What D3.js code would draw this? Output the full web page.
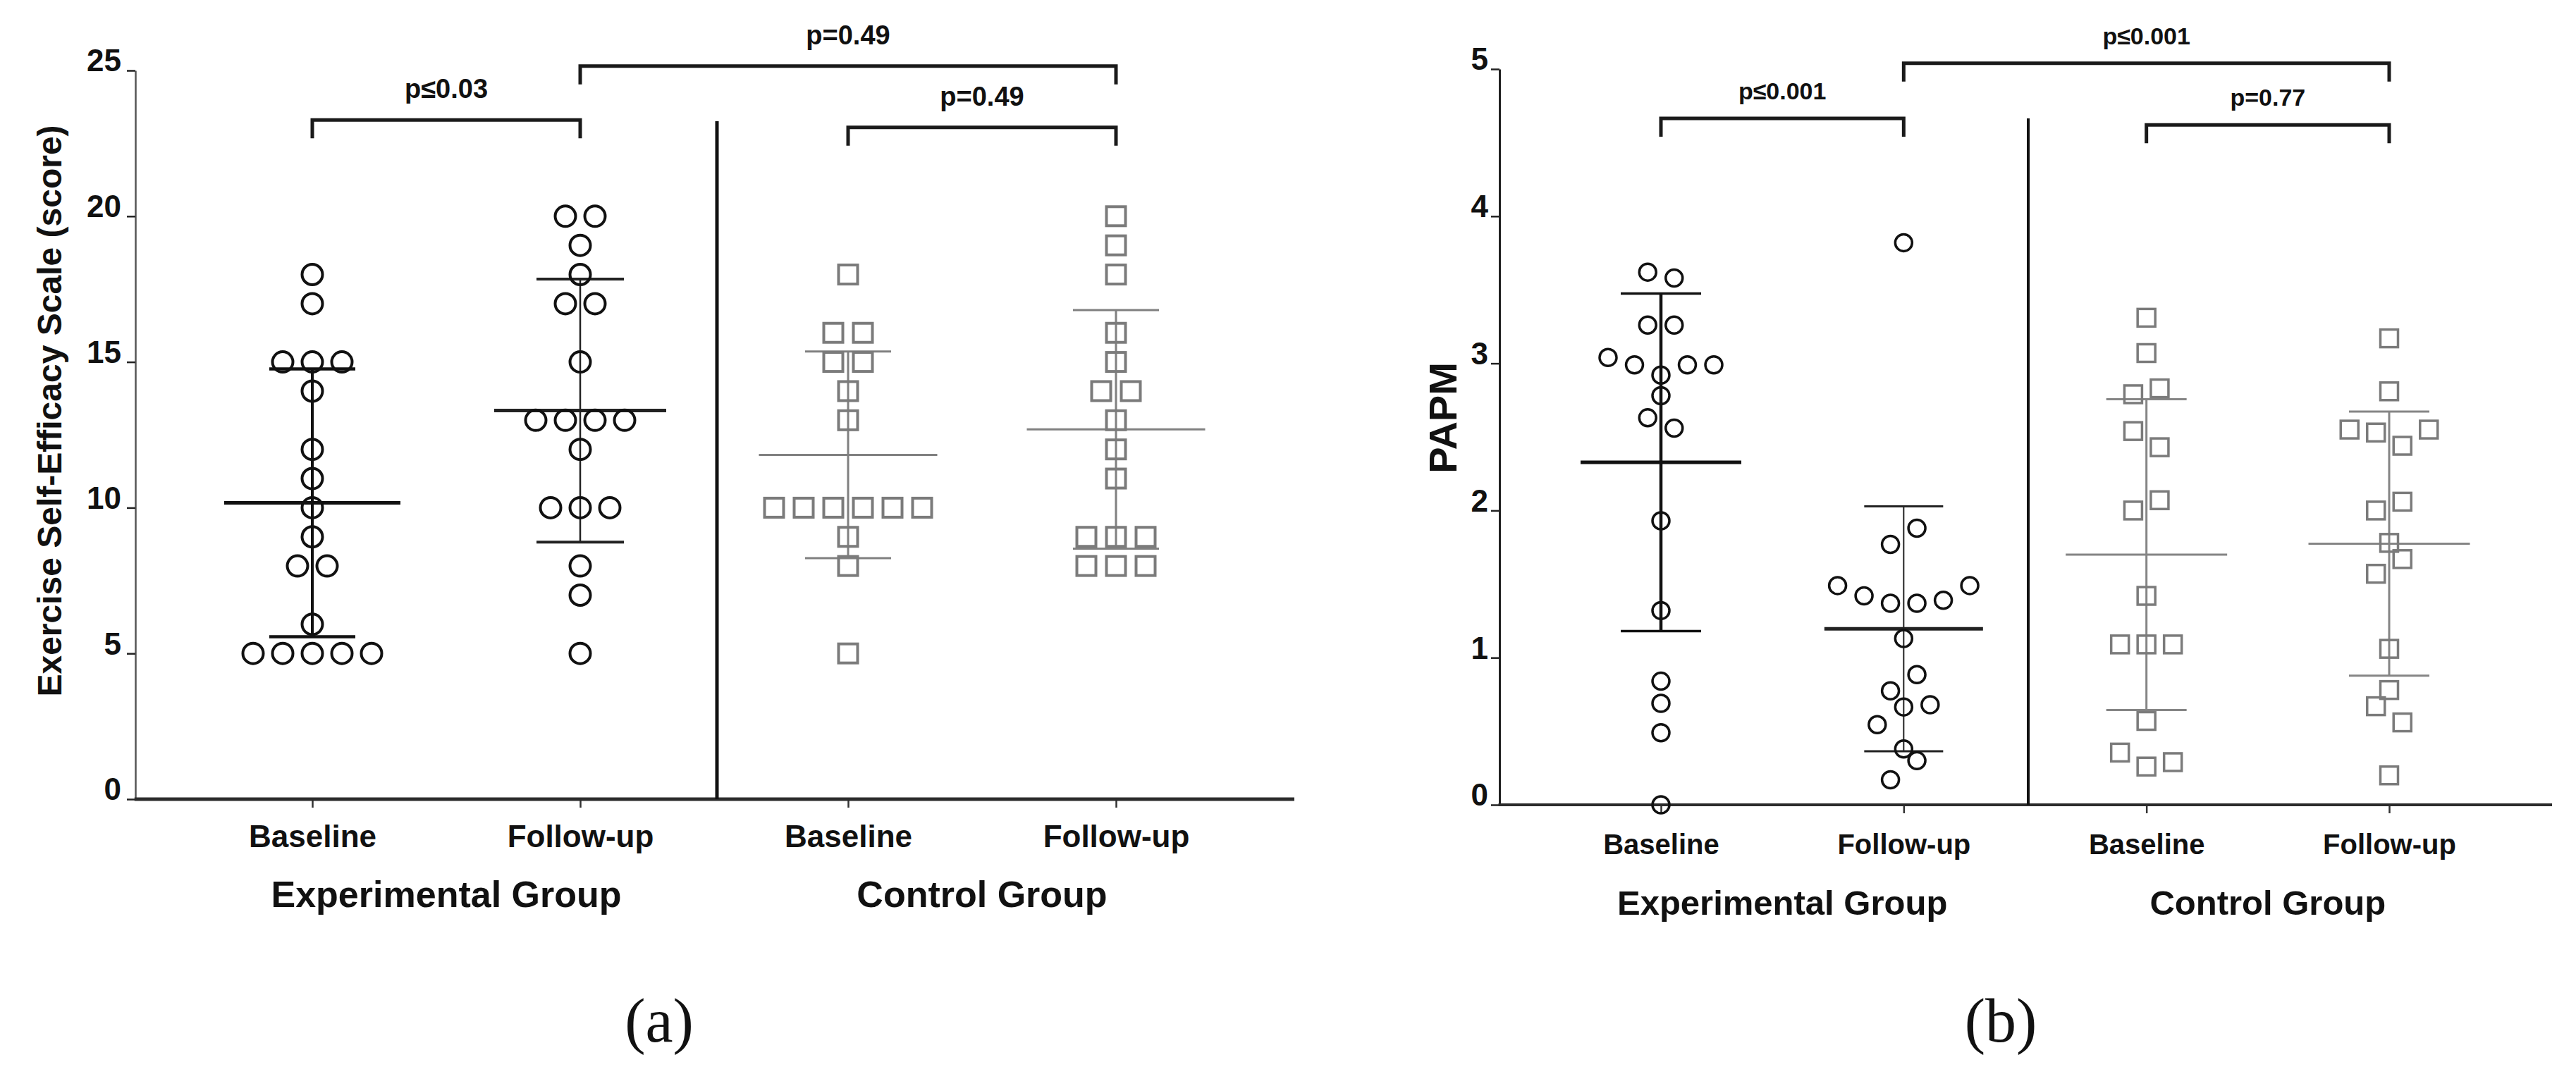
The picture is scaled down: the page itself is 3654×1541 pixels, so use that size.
<!DOCTYPE html>
<html>
<head>
<meta charset="utf-8">
<script src="https://cdnjs.cloudflare.com/ajax/libs/d3/7.8.5/d3.min.js"></script>
<style>
  body { margin: 0; background: #fff; }
  svg { display: block; background: #fff; }
  text { font-family: "Liberation Sans", Arial, sans-serif; font-weight: bold; fill: #111; }
  .caption { font-family: "Liberation Serif", "Times New Roman", serif; font-weight: normal; }
</style>
</head>
<body>
<svg id="chart" width="3654" height="1541"></svg>
<script>
// the four columns, same on both panels
var groupKeys = ["expBase", "expFollow", "ctrlBase", "ctrlFollow"];
var timeLabels = ["Baseline", "Follow-up", "Baseline", "Follow-up"];
var armLabels = ["Experimental Group", "Control Group"];

// (a) Exercise Self-Efficacy Scale
var eseTicks = [0, 5, 10, 15, 20, 25];
var eseExpBaseline = [18, 17, 15, 15, 15, 14, 12, 11, 10, 9, 8, 8, 6, 5, 5, 5, 5, 5];
var eseExpFollowUp = [20, 20, 19, 18, 17, 17, 15, 13, 13, 13, 13, 12, 10, 10, 10, 8, 7, 5];
var eseCtrlBaseline = [18, 16, 16, 15, 15, 14, 13, 10, 10, 10, 10, 10, 10, 9, 8, 5];
var eseCtrlFollowUp = [20, 19, 18, 16, 15, 14, 14, 13, 12, 11, 9, 9, 9, 8, 8, 8];
var eseBrackets = [
  { from: "expBase", to: "expFollow", level: 23.3, label: "p\u22640.03" },
  { from: "expFollow", to: "ctrlFollow", level: 25.15, label: "p=0.49" },
  { from: "ctrlBase", to: "ctrlFollow", level: 23.05, label: "p=0.49" }
];

// (b) PAPM (values within a row listed left to right)
var papmTicks = [0, 1, 2, 3, 4, 5];
var papmExpBaseline = [3.62, 3.58, 3.26, 3.26, 3.04, 2.99, 2.92, 2.99, 2.99, 2.78, 2.63, 2.56, 1.93, 1.32, 0.84, 0.69, 0.49, 0.00];
var papmExpFollowUp = [3.82, 1.77, 1.88, 1.49, 1.42, 1.37, 1.37, 1.39, 1.49, 1.13, 0.775, 0.885, 0.545, 0.665, 0.68, 0.38, 0.17, 0.30];
var papmCtrlBaseline = [3.31, 3.07, 2.79, 2.83, 2.54, 2.43, 2.00, 2.07, 1.42, 1.09, 1.09, 1.09, 0.57, 0.355, 0.26, 0.29];
var papmCtrlFollowUp = [3.17, 2.81, 2.55, 2.53, 2.44, 2.55, 2.00, 2.06, 1.57, 1.67, 1.78, 1.06, 0.78, 0.67, 0.56, 0.20];
var papmBrackets = [
  { from: "expBase", to: "expFollow", level: 4.665, label: "p\u22640.001" },
  { from: "expFollow", to: "ctrlFollow", level: 5.04, label: "p\u22640.001" },
  { from: "ctrlBase", to: "ctrlFollow", level: 4.62, label: "p=0.77" }
];

// layout and look of each panel
var panels = [
  {
    values: [eseExpBaseline, eseExpFollowUp, eseCtrlBaseline, eseCtrlFollowUp],
    ticks: eseTicks, domain: [0, 25], brackets: eseBrackets,
    title: "Exercise Self-Efficacy Scale (score)", titleX: 70, titleY: 583, titleSize: 48,
    caption: "(a)", captionX: 935,
    x0: 443, x1: 1583, yTop: 100, yBottom: 1134,
    axisX: 192, axisEnd: 1836, sepX: 1017, sepTop: 172,
    yAxisColor: "#555", yAxisWidth: 2.5, xAxisWidth: 5, sepWidth: 5,
    tickFont: 44, tickPad: 8, catFont: 44, catPad: 25, armFont: 52, armY: 1287,
    pFont: 38, pLift: 31,
    rowGap: 0.5, spacing: 42, r: 14.5, side: 27, markStroke: 4,
    bars: [
      { color: "#111", stem: 4, mean: 5, cap: 4.5, meanW: 250, capW: 122 },
      { color: "#222", stem: 2.5, mean: 5, cap: 4, meanW: 244, capW: 124 },
      { color: "#808080", stem: 3, mean: 3, cap: 3, meanW: 253, capW: 122 },
      { color: "#808080", stem: 3, mean: 3, cap: 3, meanW: 253, capW: 122 }
    ]
  },
  {
    values: [papmExpBaseline, papmExpFollowUp, papmCtrlBaseline, papmCtrlFollowUp],
    ticks: papmTicks, domain: [0, 5], brackets: papmBrackets,
    title: "PAPM", titleX: 2046, titleY: 593, titleSize: 56,
    caption: "(b)", captionX: 2838,
    x0: 2356, x1: 3389, yTop: 98, yBottom: 1142,
    axisX: 2127, axisEnd: 3620, sepX: 2877, sepTop: 168,
    yAxisColor: "#222", yAxisWidth: 3, xAxisWidth: 4, sepWidth: 4,
    tickFont: 44, tickPad: 4, catFont: 40, catPad: 30, armFont: 49, armY: 1298,
    pFont: 34, pLift: 27,
    rowGap: 0.137, spacing: 37.5, r: 12, side: 25, markStroke: 3.5,
    bars: [
      { color: "#111", stem: 4.5, mean: 5, cap: 3.5, meanW: 228, capW: 114 },
      { color: "#222", stem: 2, mean: 5, cap: 3, meanW: 225, capW: 112 },
      { color: "#858585", stem: 3, mean: 3, cap: 3, meanW: 229, capW: 114 },
      { color: "#858585", stem: 3, mean: 3, cap: 3, meanW: 229, capW: 114 }
    ]
  }
];

var svg = d3.select("#chart");

// points that lie close together in value share a row and are spread sideways
function rowSlots(values, gap) {
  var order = d3.range(values.length).sort(function (a, b) { return values[a] - values[b] || a - b; });
  var rows = [], row = null;
  order.forEach(function (i) {
    if (!row || values[i] - values[row[0]] > gap) { row = [i]; rows.push(row); }
    else row.push(i);
  });
  var slot = [];
  rows.forEach(function (r) {
    r.sort(d3.ascending);
    r.forEach(function (i, k) { slot[i] = k - (r.length - 1) / 2; });
  });
  return slot;
}

function drawPanel(p) {
  var g = svg.append("g");
  var x = d3.scalePoint().domain(groupKeys).range([p.x0, p.x1]);
  var y = d3.scaleLinear().domain(p.domain).range([p.yBottom, p.yTop]);

  // y axis
  var yAxis = g.append("g")
    .attr("transform", "translate(" + p.axisX + ",0)")
    .call(d3.axisLeft(y).tickValues(p.ticks).tickFormat(d3.format("d"))
      .tickSize(12).tickSizeOuter(0).tickPadding(p.tickPad));
  yAxis.select(".domain").attr("stroke", p.yAxisColor).attr("stroke-width", p.yAxisWidth);
  yAxis.selectAll(".tick line").attr("stroke", "#222").attr("stroke-width", 2.5);
  yAxis.selectAll(".tick text")
    .attr("dy", "0.02em")
    .style("font-size", p.tickFont + "px")
    .style("font-family", "'Liberation Sans', Arial, sans-serif")
    .style("font-weight", "bold").attr("fill", "#111");

  // x axis: ticks + time labels, long baseline drawn separately
  var xAxis = g.append("g")
    .attr("transform", "translate(0," + p.yBottom + ")")
    .call(d3.axisBottom(x).tickSize(12).tickPadding(p.catPad)
      .tickFormat(function (d, i) { return timeLabels[i]; }));
  xAxis.select(".domain").remove();
  xAxis.selectAll(".tick line").attr("stroke", "#333").attr("stroke-width", 2.5);
  xAxis.selectAll(".tick text")
    .style("font-size", p.catFont + "px")
    .style("font-family", "'Liberation Sans', Arial, sans-serif")
    .style("font-weight", "bold").attr("fill", "#111");
  g.append("line")
    .attr("x1", p.axisX - p.yAxisWidth / 2).attr("x2", p.axisEnd)
    .attr("y1", p.yBottom).attr("y2", p.yBottom)
    .attr("stroke", "#2b2b2b").attr("stroke-width", p.xAxisWidth);

  // divider between the two arms
  g.append("line")
    .attr("x1", p.sepX).attr("x2", p.sepX)
    .attr("y1", p.sepTop).attr("y2", p.yBottom)
    .attr("stroke", "#111").attr("stroke-width", p.sepWidth);

  // arm labels under each pair of columns
  armLabels.forEach(function (label, k) {
    var cx = (x(groupKeys[2 * k]) + x(groupKeys[2 * k + 1])) / 2;
    g.append("text")
      .attr("x", cx).attr("y", p.armY)
      .attr("text-anchor", "middle")
      .style("font-size", p.armFont + "px")
      .text(label);
  });

  // axis title
  g.append("text")
    .attr("transform", "translate(" + p.titleX + "," + p.titleY + ") rotate(-90)")
    .attr("text-anchor", "middle")
    .attr("dy", "0.36em")
    .style("font-size", p.titleSize + "px")
    .text(p.title);

  // mean and SD bars
  p.values.forEach(function (vals, i) {
    var cx = x(groupKeys[i]);
    var m = d3.mean(vals), sd = d3.deviation(vals);
    var s = p.bars[i];
    var bar = g.append("g").attr("stroke", s.color).attr("fill", "none");
    bar.append("line")
      .attr("x1", cx).attr("x2", cx).attr("y1", y(m + sd)).attr("y2", y(m - sd))
      .attr("stroke-width", s.stem);
    [m + sd, m - sd].forEach(function (v) {
      bar.append("line")
        .attr("x1", cx - s.capW / 2).attr("x2", cx + s.capW / 2)
        .attr("y1", y(v)).attr("y2", y(v))
        .attr("stroke-width", s.cap);
    });
    bar.append("line")
      .attr("x1", cx - s.meanW / 2).attr("x2", cx + s.meanW / 2)
      .attr("y1", y(m)).attr("y2", y(m))
      .attr("stroke-width", s.mean);
  });

  // individual scores: open circles (experimental), open squares (control)
  p.values.forEach(function (vals, i) {
    var cx = x(groupKeys[i]);
    var slots = rowSlots(vals, p.rowGap);
    var pts = vals.map(function (v, j) { return { v: v, px: cx + slots[j] * p.spacing }; });
    if (i < 2) {
      g.append("g").selectAll("circle").data(pts).join("circle")
        .attr("cx", function (d) { return d.px; })
        .attr("cy", function (d) { return y(d.v); })
        .attr("r", p.r)
        .attr("fill", "none").attr("stroke", "#111").attr("stroke-width", p.markStroke);
    } else {
      g.append("g").selectAll("rect").data(pts).join("rect")
        .attr("x", function (d) { return d.px - p.side / 2; })
        .attr("y", function (d) { return y(d.v) - p.side / 2; })
        .attr("width", p.side).attr("height", p.side)
        .attr("fill", "none").attr("stroke", "#7b7b7b").attr("stroke-width", p.markStroke);
    }
  });

  // significance brackets
  p.brackets.forEach(function (b) {
    var xa = x(b.from), xb = x(b.to), yl = y(b.level);
    g.append("path")
      .attr("d", "M" + xa + "," + (yl + 26) + "V" + yl + "H" + xb + "V" + (yl + 26))
      .attr("fill", "none").attr("stroke", "#1a1a1a").attr("stroke-width", 5)
      .attr("stroke-linejoin", "miter");
    g.append("text")
      .attr("x", (xa + xb) / 2).attr("y", yl - p.pLift)
      .attr("text-anchor", "middle")
      .style("font-size", p.pFont + "px")
      .text(b.label);
  });

  // panel caption
  g.append("text")
    .attr("class", "caption")
    .attr("x", p.captionX).attr("y", 1478)
    .attr("text-anchor", "middle")
    .style("font-size", "88px")
    .text(p.caption);
}

panels.forEach(drawPanel);
</script>
</body>
</html>
